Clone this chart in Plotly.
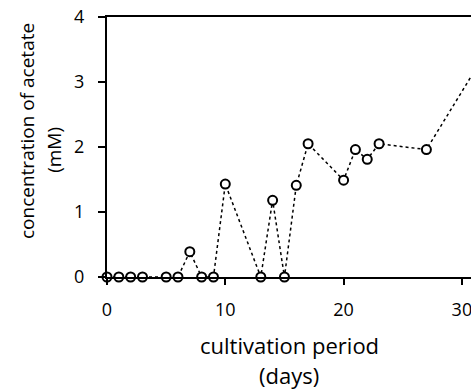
import plotly.graph_objects as go

# cultivation day and acetate concentration (mM)
days = [0, 1, 2, 3, 5, 6, 7, 8, 9, 10, 13, 14, 15, 16, 17, 20, 21, 22, 23, 27, 31]
acetate = [0, 0, 0, 0, 0, 0, 0.39, 0, 0, 1.43, 0, 1.18, 0, 1.41, 2.05, 1.49, 1.96, 1.81, 2.05, 1.96, 3.15]

x_ticks = [0, 10, 20, 30]
y_ticks = [0, 1, 2, 3, 4]

FONT = "Open Sans"

fig = go.Figure()
fig.add_trace(go.Scatter(
    x=days, y=acetate,
    mode="lines+markers",
    line=dict(color="black", width=1.5, dash="dot"),
    marker=dict(symbol="circle", size=9, color="white",
                line=dict(color="black", width=2)),
    cliponaxis=False,
    showlegend=False,
))

fig.update_layout(
    width=471, height=389,
    margin=dict(l=107, r=0, t=17, b=112),
    paper_bgcolor="white", plot_bgcolor="white",
    font=dict(family=FONT, size=18, color="black"),
    xaxis=dict(
        range=[0, 30.77], tickvals=x_ticks, ticks="outside", ticklen=6,
        tickwidth=2, tickcolor="black", showline=True, linecolor="black",
        linewidth=2, mirror=True, showgrid=False, zeroline=False,
        tickfont=dict(size=18), ticklabeloverflow="allow",
        ticklabelstandoff=9,
    ),
    yaxis=dict(
        range=[0, 4], tickvals=y_ticks, ticks="outside", ticklen=7,
        tickwidth=2, tickcolor="black", showline=True, linecolor="black",
        linewidth=2, showgrid=False, zeroline=False,
        tickfont=dict(size=18), ticklabelstandoff=10,
    ),
    annotations=[
        dict(text="cultivation period", xref="paper", yref="paper",
             x=0.5, y=0, yshift=-68, xanchor="center", yanchor="middle",
             showarrow=False, font=dict(size=22)),
        dict(text="(days)", xref="paper", yref="paper",
             x=0.5, y=0, yshift=-98, xanchor="center", yanchor="middle",
             showarrow=False, font=dict(size=22)),
        dict(text="concentration of acetate", xref="paper", yref="paper",
             x=0, xshift=-80, y=0.5615, xanchor="center", yanchor="middle",
             textangle=-90, showarrow=False, font=dict(size=19)),
        dict(text="(mM)", xref="paper", yref="paper",
             x=0, xshift=-53, y=0.489, xanchor="center", yanchor="middle",
             textangle=-90, showarrow=False, font=dict(size=19)),
    ],
)

fig.write_html("out.html")
